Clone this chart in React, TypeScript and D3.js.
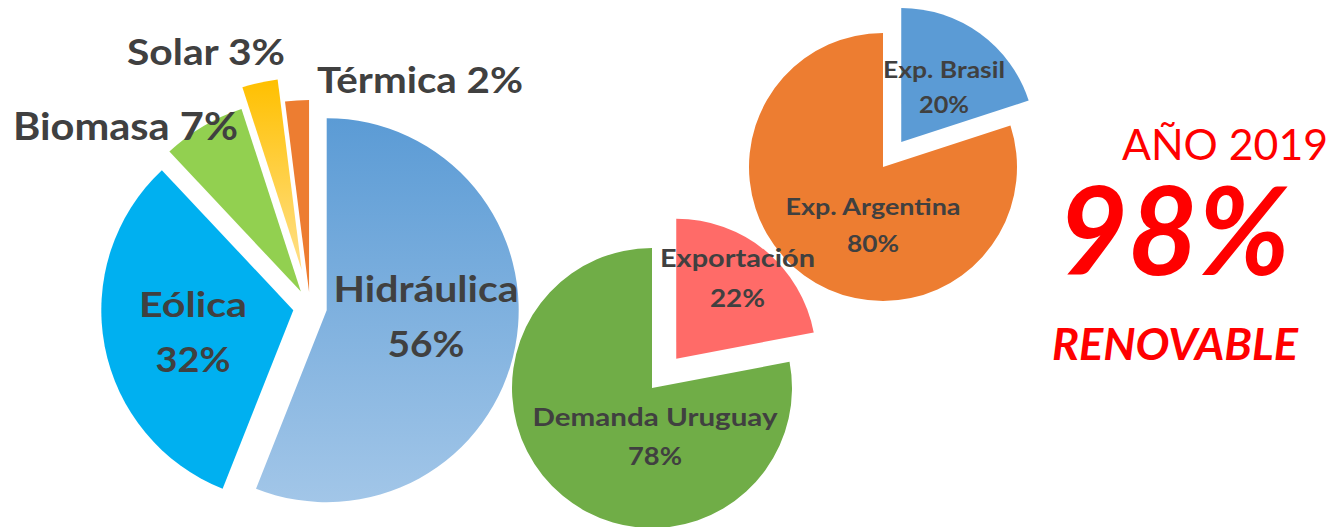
import React from "react";
import * as d3 from "d3";

const WIDTH = 1343;
const HEIGHT = 527;

// generación por fuente (%)
const genNames = ["Hidráulica", "Eólica", "Biomasa", "Solar", "Térmica"];
const genValues = [56, 32, 7, 3, 2];
const genColors = ["url(#gradHidro)", "#00B0F0", "#92D050", "url(#gradSolar)", "#ED7D31"];
const genExplode = [17, 17, 18, 38, 15];

// destino de la energía (%)
const destNames = ["Exportación", "Demanda Uruguay"];
const destValues = [22, 78];
const destColors = ["#FF6B68", "#70AD47"];
const destExplode = [38, 0];

// exportaciones (%)
const expNames = ["Exp. Brasil", "Exp. Argentina"];
const expValues = [20, 80];
const expColors = ["#5B9BD5", "#ED7D31"];
const expExplode = [31, 0];

const TEXT = "#404040";
const FONT = "Lato, 'Open Sans', sans-serif";

type Label = { lines: string[]; x: number; y: number[]; size: number; widths: number[] };

// posiciones de las etiquetas (movidas a mano como en el original)
const genLabels: Label[] = [
  { lines: ["Hidráulica", "56%"], x: 426, y: [302, 357], size: 37, widths: [185, 77] },
  { lines: ["Eólica", "32%"], x: 193, y: [317, 372], size: 35, widths: [108, 75] },
  { lines: ["Biomasa 7%"], x: 125.5, y: [140], size: 38, widths: [225] },
  { lines: ["Solar 3%"], x: 206, y: [65], size: 37, widths: [158] },
  { lines: ["Térmica 2%"], x: 420, y: [93], size: 37, widths: [206] },
];
const destLabels: Label[] = [
  { lines: ["Exportación", "22%"], x: 737.5, y: [267, 307], size: 25, widths: [155, 55] },
  { lines: ["Demanda Uruguay", "78%"], x: 655, y: [426, 465], size: 25, widths: [245, 54] },
];
const expLabels: Label[] = [
  { lines: ["Exp. Brasil", "20%"], x: 944, y: [78, 113], size: 22, widths: [122, 50] },
  { lines: ["Exp. Argentina", "80%"], x: 873, y: [215, 252], size: 22, widths: [175, 52] },
];

function Pie({ cx, cy, r, values, colors, explode, labels }: {
  cx: number; cy: number; r: number; values: number[]; colors: string[]; explode: number[]; labels: Label[];
}) {
  const pie = d3.pie<number>().sort(null).value(d => d);
  const arcs = pie(values);
  const arc = d3.arc<d3.PieArcDatum<number>>().innerRadius(0).outerRadius(r);
  return (
    <g>
      {arcs.map((a, i) => {
        const mid = (a.startAngle + a.endAngle) / 2;
        const dx = Math.sin(mid) * explode[i];
        const dy = -Math.cos(mid) * explode[i];
        return (
          <path key={i} d={arc(a) || ""} fill={colors[i]}
            transform={`translate(${cx + dx},${cy + dy})`} />
        );
      })}
      {labels.map((l, i) => (
        <g key={"l" + i}>
          {l.lines.map((t, j) => (
            <text key={j} x={l.x} y={l.y[j]} textAnchor="middle" fontFamily={FONT}
              fontWeight={700} fontSize={l.size} fill={TEXT}
              textLength={l.widths[j]} lengthAdjust="spacingAndGlyphs">{t}</text>
          ))}
        </g>
      ))}
    </g>
  );
}

export default function App() {
  return (
    <svg width={WIDTH} height={HEIGHT} style={{ position: "absolute", left: 0, top: 0, background: "#fff" }}>
      <defs>
        <linearGradient id="gradHidro" x1="0" y1="0" x2="0" y2="1">
          <stop offset="0%" stopColor="#5B9BD5" />
          <stop offset="100%" stopColor="#A2C6E8" />
        </linearGradient>
        <linearGradient id="gradSolar" x1="0" y1="0" x2="0" y2="1">
          <stop offset="0%" stopColor="#FFC000" />
          <stop offset="100%" stopColor="#FFE08A" />
        </linearGradient>
      </defs>
      <Pie cx={310} cy={307} r={192} values={genValues} colors={genColors} explode={genExplode} labels={genLabels} />
      <Pie cx={883} cy={167} r={134} values={expValues} colors={expColors} explode={expExplode} labels={expLabels} />
      <Pie cx={652} cy={388} r={140} values={destValues} colors={destColors} explode={destExplode} labels={destLabels} />
      <text x={1225} y={160} textAnchor="middle" fontFamily={FONT} fontSize={42} fill="#FF0000"
        textLength={206} lengthAdjust="spacingAndGlyphs">AÑO 2019</text>
      <text x={1174} y={275} textAnchor="middle" fontFamily={FONT} fontSize={122} fontWeight={700}
        fontStyle="italic" fill="#FF0000" textLength={232} lengthAdjust="spacingAndGlyphs">98%</text>
      <text x={1175} y={360} textAnchor="middle" fontFamily={FONT} fontSize={44} fontWeight={700}
        fontStyle="italic" fill="#FF0000" textLength={246} lengthAdjust="spacingAndGlyphs">RENOVABLE</text>
    </svg>
  );
}
